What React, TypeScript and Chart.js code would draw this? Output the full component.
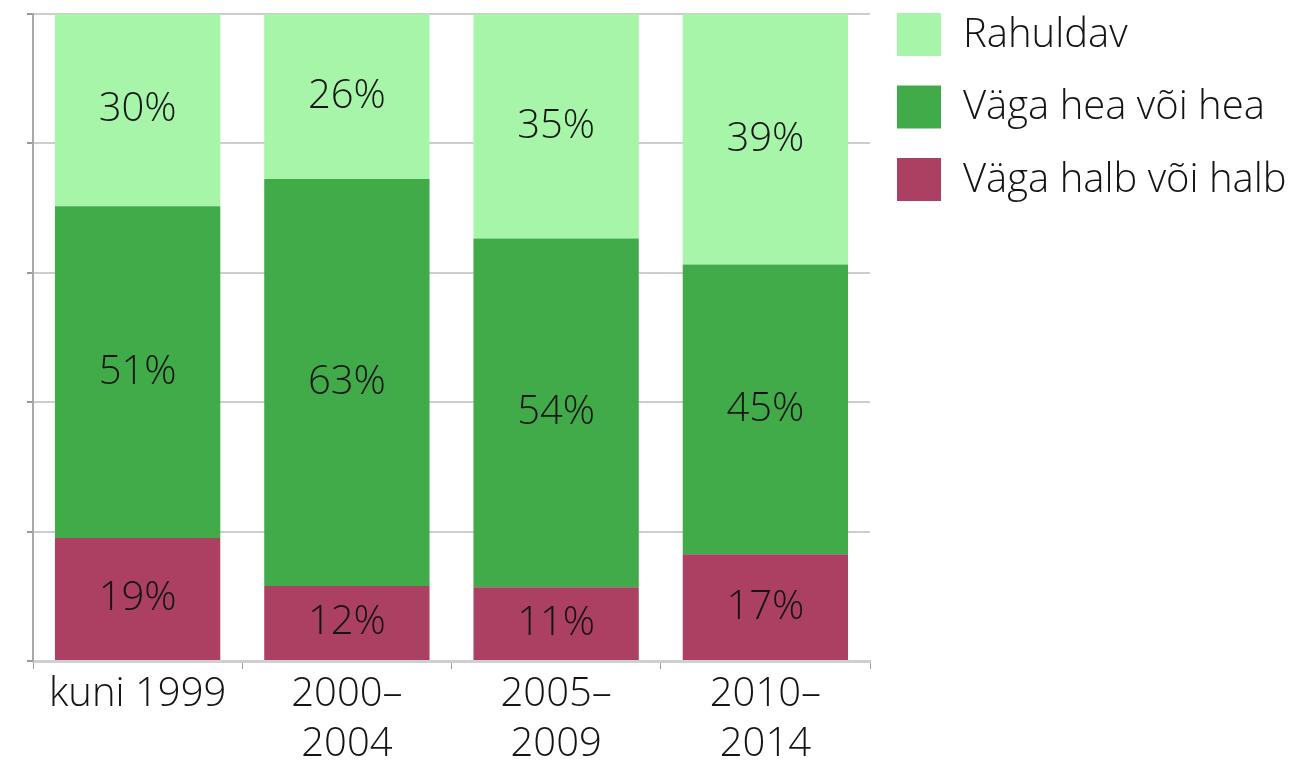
import React, { useEffect, useRef } from 'react';
import { Chart, registerables } from 'chart.js';

Chart.register(...registerables);

const categories: (string | string[])[] = ['kuni 1999', ['2000–', '2004'], ['2005–', '2009'], ['2010–', '2014']];
const seriesNames = ['Väga halb või halb', 'Väga hea või hea', 'Rahuldav'];
const halbValues = [19.0, 11.6, 11.4, 16.5];
const heaValues = [51.3, 62.9, 53.9, 44.8];
const rahuldavValues = [29.7, 25.5, 34.7, 38.7];
const seriesColors = ['#ab4063', '#41ab4a', '#a6f5a8'];
const yMin = 0;
const yMax = 100;
const yStep = 20;

const FONT = '"Open Sans", "Noto Sans", sans-serif';
const FONT_SIZE = 40;
const FONT_WEIGHT = '300';
const TEXT_COLOR = '#141414';

const segmentLabels = {
  id: 'segmentLabels',
  afterDatasetsDraw(chart: any) {
    const ctx = chart.ctx;
    ctx.save();
    ctx.font = `${FONT_WEIGHT} ${FONT_SIZE}px ${FONT}`;
    ctx.fillStyle = TEXT_COLOR;
    ctx.textAlign = 'center';
    ctx.textBaseline = 'middle';
    chart.data.datasets.forEach((ds: any, i: number) => {
      const meta = chart.getDatasetMeta(i);
      meta.data.forEach((el: any, j: number) => {
        const { x, y, base } = el.getProps(['x', 'y', 'base'], true);
        ctx.fillText(`${Math.round(ds.data[j])}%`, x, (y + base) / 2);
      });
    });
    ctx.restore();
  },
};

const sideLegend = {
  id: 'sideLegend',
  afterDraw(chart: any) {
    const ctx = chart.ctx;
    const area = chart.chartArea;
    const boxX = area.right + 27;
    const boxW = 44;
    const boxH = 43;
    const step = 72.5;
    const top = area.top - 1;
    ctx.save();
    ctx.font = `${FONT_WEIGHT} ${FONT_SIZE}px ${FONT}`;
    ctx.textBaseline = 'middle';
    ctx.textAlign = 'left';
    const ds = [...chart.data.datasets].reverse();
    ds.forEach((d: any, k: number) => {
      const y = top + k * step;
      ctx.fillStyle = d.backgroundColor;
      ctx.fillRect(boxX, y, boxW, boxH);
      ctx.fillStyle = TEXT_COLOR;
      ctx.fillText(d.label, boxX + boxW + 22, y + boxH / 2 + 1);
    });
    ctx.restore();
  },
};

export default function App() {
  const ref = useRef<HTMLCanvasElement | null>(null);

  useEffect(() => {
    document.body.style.margin = '0';
    const canvas = ref.current;
    if (!canvas) return;
    const values = [halbValues, heaValues, rahuldavValues];
    const chart = new Chart(canvas, {
      type: 'bar',
      data: {
        labels: categories,
        datasets: seriesNames.map((name, i) => ({
          label: name,
          data: values[i],
          backgroundColor: seriesColors[i],
          borderWidth: 0,
          categoryPercentage: 1,
          barPercentage: 0.79,
        })),
      },
      options: {
        responsive: false,
        animation: false,
        layout: { padding: { left: 27, top: 14, right: 429, bottom: 0 } },
        plugins: {
          legend: { display: false },
          tooltip: { enabled: false },
        },
        scales: {
          x: {
            stacked: true,
            grid: {
              display: true,
              drawOnChartArea: false,
              drawTicks: true,
              tickLength: 8,
              tickColor: '#9a9a9a',
              offset: true,
            },
            border: { display: true, color: '#cfcfcf', width: 3 },
            ticks: {
              font: { family: FONT, size: FONT_SIZE, weight: FONT_WEIGHT, lineHeight: 1.25 },
              color: TEXT_COLOR,
              padding: 1,
              maxRotation: 0,
              autoSkip: false,
            },
            afterFit: (s: any) => {
              s.height = 102;
            },
          },
          y: {
            stacked: true,
            min: yMin,
            max: yMax,
            ticks: { display: false, stepSize: yStep },
            grid: {
              color: '#cdcdcd',
              lineWidth: 2,
              drawTicks: true,
              tickLength: 6,
              tickColor: '#9a9a9a',
            },
            border: { display: true, color: '#a8a8a8', width: 2 },
            afterFit: (s: any) => {
              s.width = 6;
            },
          },
        },
      },
      plugins: [segmentLabels, sideLegend],
    });
    return () => chart.destroy();
  }, []);

  return (
    <div style={{ width: 1299, height: 763 }}>
      <canvas ref={ref} width={1299} height={763} style={{ display: 'block' }} />
    </div>
  );
}
